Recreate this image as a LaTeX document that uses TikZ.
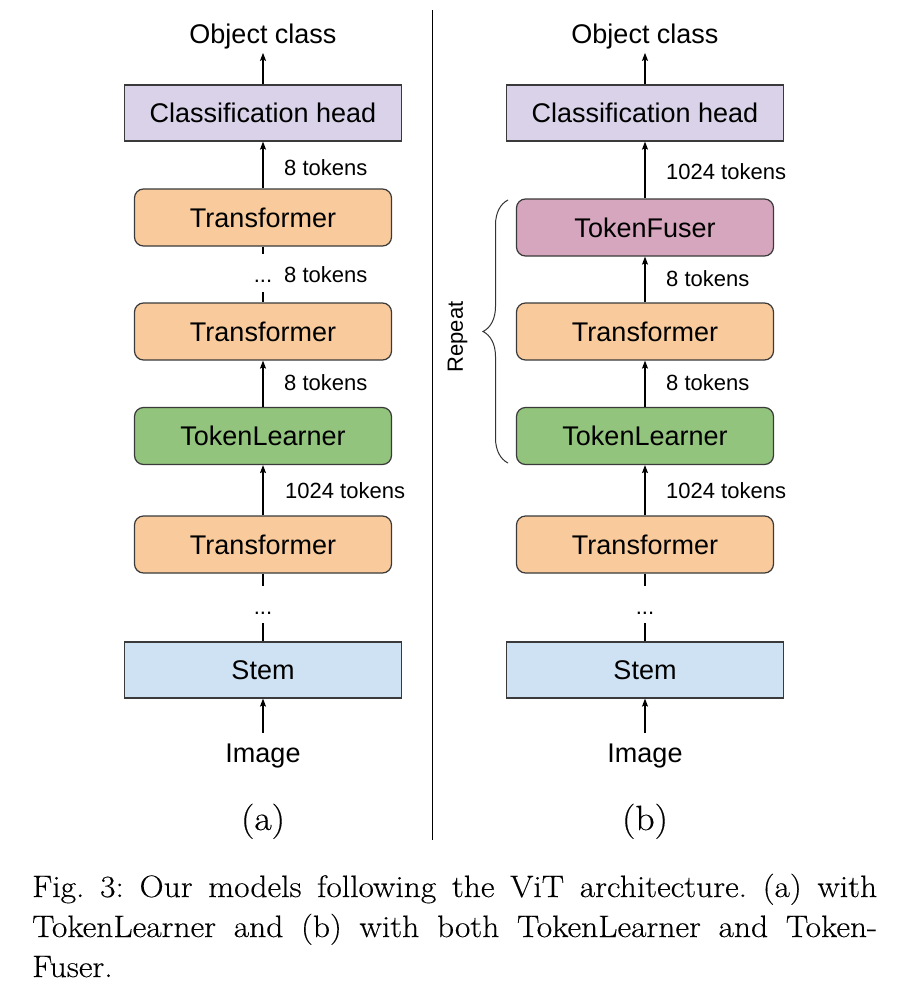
\documentclass[tikz,border=0pt]{standalone}
\usepackage{fontspec}
\newfontfamily\sansf{Liberation Sans}
\newfontfamily\capf{Latin Modern Roman}[FakeStretch=1.08, FakeBold=0.3]
\usetikzlibrary{arrows.meta,decorations.pathreplacing}
\definecolor{cpurple}{HTML}{D9D2E9}
\definecolor{corange}{HTML}{F9CB9C}
\definecolor{cgreen}{HTML}{93C47D}
\definecolor{cmagenta}{HTML}{D5A6BD}
\definecolor{cblue}{HTML}{CFE2F3}
\definecolor{cborder}{HTML}{3A3A3A}
\frenchspacing
\begin{document}
\begin{tikzpicture}[x=1pt,y=-1pt,
  box/.style={draw=cborder, line width=1.2pt, minimum width=257pt, minimum height=57pt,
    rounded corners=9pt, inner sep=0pt, font=\sansf\fontsize{27pt}{32pt}\selectfont},
  sqbox/.style={box, rounded corners=0pt, minimum width=277pt, minimum height=56pt},
  io/.style={inner sep=0pt, text height=19.3pt, text depth=0pt, font=\sansf\fontsize{27pt}{32pt}\selectfont},
  lbl/.style={inner sep=0pt, text height=15.8pt, text depth=0pt, anchor=west, font=\sansf\fontsize{22pt}{26pt}\selectfont},
  dotsn/.style={lbl, anchor=center},
  arr/.style={line width=1.2pt, -{Stealth[length=8pt,width=6pt,inset=1.5pt]}},
  plain/.style={line width=1.2pt},
  subtxt/.style={inner sep=0pt, anchor=base, font=\capf\fontsize{35pt}{40pt}\selectfont},
  captxt/.style={inner sep=0pt, anchor=base west, font=\capf\fontsize{31pt}{40pt}\selectfont}
]
\useasboundingbox (0,0) rectangle (908,1002);
\fill[white] (0,0) rectangle (908,1002);

% separator
\coordinate (septop) at (432,10);
\coordinate (sepbot) at (432,840);
\draw[line width=1pt] (septop) -- (sepbot);

% ---------- column (a) ----------
\node[io] (a-obj) at (263,34) {Object class};
\node[sqbox, fill=cpurple] (a-ch) at (263,113) {Classification head};
\node[box, fill=corange] (a-t1) at (263,217.5) {Transformer};
\node[box, fill=corange] (a-t2) at (263,331.5) {Transformer};
\node[box, fill=cgreen] (a-tl) at (263,436) {TokenLearner};
\node[box, fill=corange] (a-t3) at (263,544.5) {Transformer};
\node[sqbox, fill=cblue] (a-stem) at (263,670) {Stem};
\node[io] (a-img) at (263,752.5) {Image};
\node[subtxt] (a-sub) at (263,830) {(a)};

\node[lbl] (a-l1) at (284,167.5) {8 tokens};
\node[dotsn] (a-d1) at (263,275) {...};
\node[lbl] (a-l2) at (284,275) {8 tokens};
\node[lbl] (a-l3) at (284,383) {8 tokens};
\node[lbl] (a-l4) at (285,491) {1024 tokens};
\node[dotsn] (a-d2) at (263,607) {...};

\coordinate (a-s1) at (263,254);
\coordinate (a-s2) at (263,292);
\coordinate (a-s3) at (263,586);
\coordinate (a-s4) at (263,623);

\draw[arr, shorten >=9pt] (a-ch.north) -- (a-obj.south);
\draw[arr] (a-t1.north) -- (a-ch.south);
\draw[plain] (a-t1.south) -- (a-s1);
\draw[plain] (a-s2) -- (a-t2.north);
\draw[arr] (a-tl.north) -- (a-t2.south);
\draw[arr] (a-t3.north) -- (a-tl.south);
\draw[plain] (a-t3.south) -- (a-s3);
\draw[plain] (a-s4) -- (a-stem.north);
\draw[arr, shorten <=10pt] (a-img.north) -- (a-stem.south);

% ---------- column (b) ----------
\node[io] (b-obj) at (645,34) {Object class};
\node[sqbox, fill=cpurple] (b-ch) at (645,113) {Classification head};
\node[box, fill=cmagenta] (b-tf) at (645,227.5) {TokenFuser};
\node[box, fill=corange] (b-t) at (645,331.5) {Transformer};
\node[box, fill=cgreen] (b-tl) at (645,436) {TokenLearner};
\node[box, fill=corange] (b-t3) at (645,544.5) {Transformer};
\node[sqbox, fill=cblue] (b-stem) at (645,670) {Stem};
\node[io] (b-img) at (645,752.5) {Image};
\node[subtxt] (b-sub) at (645,830) {(b)};

\node[lbl] (b-l1) at (666,172) {1024 tokens};
\node[lbl] (b-l2) at (666,279) {8 tokens};
\node[lbl] (b-l3) at (666,383) {8 tokens};
\node[lbl] (b-l4) at (666,491) {1024 tokens};
\node[dotsn] (b-d2) at (645,607) {...};

\coordinate (b-s3) at (645,586);
\coordinate (b-s4) at (645,623);

\draw[arr, shorten >=9pt] (b-ch.north) -- (b-obj.south);
\draw[arr] (b-tf.north) -- (b-ch.south);
\draw[arr] (b-t.north) -- (b-tf.south);
\draw[arr] (b-tl.north) -- (b-t.south);
\draw[arr] (b-t3.north) -- (b-tl.south);
\draw[plain] (b-t3.south) -- (b-s3);
\draw[plain] (b-s4) -- (b-stem.north);
\draw[arr, shorten <=10pt] (b-img.north) -- (b-stem.south);

% brace + Repeat
\coordinate (brb) at (508,463);
\coordinate (brt) at (508,200);
\draw[line width=1pt, draw=black!80, decorate, decoration={brace, amplitude=25pt}] (brb) -- (brt);
\node[dotsn, rotate=90] (rep) at (455,337) {Repeat};

% caption
\node[captxt] (c1) at (32,897) {\makebox[845pt][s]{Fig. 3: Our models following the ViT architecture. (a) with}};
\node[captxt] (c2) at (32,937) {\makebox[845pt][s]{TokenLearner and (b) with both TokenLearner and Token-}};
\node[captxt] (c3) at (32,977) {Fuser.};
\end{tikzpicture}
\end{document}
